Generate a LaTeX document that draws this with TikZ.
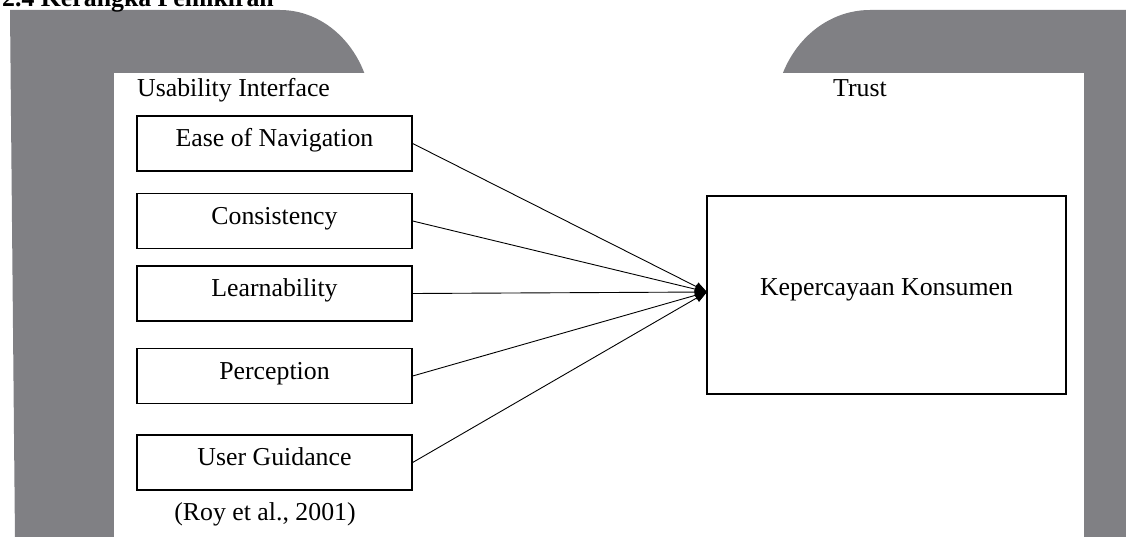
\documentclass[tikz,border=0pt]{standalone}
\usepackage{fontspec}
\setmainfont{Liberation Serif}
\usetikzlibrary{arrows.meta}
\definecolor{wmgrey}{RGB}{128,128,132}
\begin{document}
\begin{tikzpicture}[x=1pt,y=-1pt,
  every node/.style={font=\fontsize{25.8}{30}\selectfont, inner sep=0pt},
  factor/.style={draw, line width=1.3pt, minimum width=275pt, minimum height=55pt, text height=12pt, text depth=5.4pt},
  target/.style={draw, line width=1.3pt, minimum width=359pt, minimum height=198pt, text height=6pt, text depth=6pt},
  link/.style={line width=0.9pt, -{Triangle[length=12pt,width=9pt]}}]
\useasboundingbox (0,0) rectangle (1126,537);
\clip (0,0) rectangle (1126,537);
% watermark shapes
\fill[wmgrey] (10,10) -- (280,10) .. controls (330.8,10) and (372,57) .. (372,115) -- (372,540) -- (15,540) -- cycle;
\fill[wmgrey] (1130,10) -- (870,10) .. controls (817.5,10) and (775,57) .. (775,115) -- (775,540) -- (1130,540) -- cycle;
\fill[white] (114,73) rectangle (1084,540);
% title (cut off at the top edge, as in the reference)
\node[anchor=base west, font=\bfseries\fontsize{25.8}{30}\selectfont] (title) at (2,6.5) {2.4 Kerangka Pemikiran};
% labels
\node[anchor=base west] (ui) at (137,97) {Usability Interface};
\node[anchor=base west] (tr) at (833,97) {Trust};
\node[anchor=base] (ref) at (265,520) {(Roy et al., 2001)};
% factor boxes
\node[factor] (nav) at (274.5,143.5) {Ease of Navigation};
\node[factor] (con) at (274.5,221) {Consistency};
\node[factor] (lea) at (274.5,293.5) {Learnability};
\node[factor] (per) at (274.5,376) {Perception};
\node[factor] (gui) at (274.5,462.5) {User Guidance};
% target
\node[target] (kk) at (886.5,295) {Kepercayaan Konsumen};
\coordinate (hub) at (707,292);
% connectors
\draw[link] (nav.east) -- (hub);
\draw[link] (con.east) -- (hub);
\draw[link] (lea.east) -- (hub);
\draw[link] (per.east) -- (hub);
\draw[link] (gui.east) -- (hub);
\end{tikzpicture}
\end{document}
